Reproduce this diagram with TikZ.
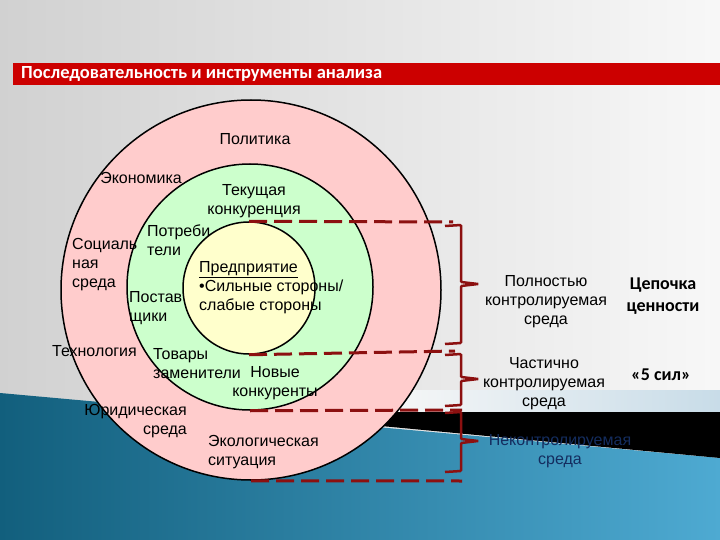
\documentclass[tikz,border=0pt]{standalone}
\usepackage{fontspec}
\setmainfont{Liberation Sans}
\newfontfamily\calibri{Carlito}
\definecolor{ringout}{RGB}{255,204,204}
\definecolor{ringmid}{RGB}{204,255,204}
\definecolor{ringin}{RGB}{255,255,204}
\definecolor{darkred}{RGB}{140,16,16}
\definecolor{barred}{RGB}{204,0,0}
\definecolor{seadark}{RGB}{18,95,125}
\definecolor{sealight}{RGB}{78,170,210}
\definecolor{stripblue}{RGB}{200,220,232}
\definecolor{navy}{RGB}{20,45,95}

\begin{document}
\begin{tikzpicture}[x=1pt,y=-1pt,
    ring/.style={draw=black, line width=1.5pt, circle, inner sep=0pt},
    lbl/.style={inner sep=0pt, font=\fontsize{16}{19}\selectfont},
    big/.style={inner sep=0pt, align=center, font=\calibri\bfseries\fontsize{18}{22}\selectfont},
    sep/.style={draw=darkred, line width=3pt, dash pattern=on 18pt off 7pt},
    brc/.style={draw=darkred, line width=2.5pt, rounded corners=1pt}]
  \useasboundingbox (0,0) rectangle (720,540);
  \shade[left color=black!18, right color=black!3] (0,0) rectangle (720,540);
  \shade[left color=black!3, right color=stripblue] (380,390) rectangle (720,412);
  \shade[left color=seadark, right color=sealight] (0,393) -- (720,458) -- (720,540) -- (0,540) -- cycle;
  \fill[black] (233,412) -- (720,412) -- (720,458) -- cycle;

  \fill[barred] (13,63) rectangle (720,85);
  \path (21,74) node[anchor=west, inner sep=0pt, text=white,
    font=\calibri\bfseries\fontsize{18.5}{20}\selectfont] (title) {Последовательность и инструменты анализа};

  \path (251,290) node[ring, fill=ringout, minimum size=380pt] (outer) {}
        (250,287) node[ring, fill=ringmid, minimum size=246pt] (mid) {}
        (249,288) node[ring, fill=ringin, minimum size=132pt] (inner) {};

  \coordinate (e1) at (453,222);
  \coordinate (e2) at (455,351);
  \coordinate (e3) at (462,410);
  \coordinate (e4) at (462,481);
  \draw[sep] (inner.north) -- (e1);
  \draw[sep] (inner.south) -- (e2);
  \draw[sep] (mid.south) -- (e3);
  \draw[sep] (outer.south) -- (e4);

  \draw[brc] (445,226) -- (461,225) -- (461,282) -- (478,284) -- (461,286) -- (461,343) -- (445,344);
  \draw[brc] (445,355) -- (461,354) -- (461,377) -- (478,379) -- (461,381) -- (461,405) -- (445,406);
  \draw[brc] (445,413) -- (461,412) -- (461,439) -- (478,441) -- (461,443) -- (461,471) -- (445,472);

  \path (255,139) node[lbl] (polit) {Политика}
        (141,178) node[lbl] (econ) {Экономика}
        (254,201) node[lbl, align=center] (compet) {Текущая\\конкуренция}
        (147,240) node[lbl, anchor=west, align=left] (consum) {Потреби\\тели}
        (72,265) node[lbl, anchor=west, align=left] (social) {Социаль\\ная\\среда}
        (129,308) node[lbl, anchor=west, align=left] (suppl) {Постав\\щики}
        (199,288) node[lbl, anchor=west, align=left] (firm) {\underline{Предприятие}\\•Сильные стороны/\\слабые стороны}
        (52,351) node[lbl, anchor=west] (techn) {Технология}
        (153,364) node[lbl, anchor=west, align=left] (subst) {Товары\\заменители}
        (275,383) node[lbl, align=center] (entrants) {Новые\\конкуренты}
        (187,421) node[lbl, anchor=east, align=right] (legal) {Юридическая\\среда}
        (208,452) node[lbl, anchor=west, align=left] (ecol) {Экологическая\\ситуация};

  \path (546,302) node[lbl, align=center] (full) {Полностью\\контролируемая\\среда}
        (544,384) node[lbl, align=center] (part) {Частично\\контролируемая\\среда}
        (560,451) node[lbl, align=center, text=navy] (none) {Неконтролируемая\\среда}
        (663,296) node[big] (chain) {Цепочка\\ценности}
        (661,375) node[big] (forces) {«5 сил»};
\end{tikzpicture}
\end{document}
